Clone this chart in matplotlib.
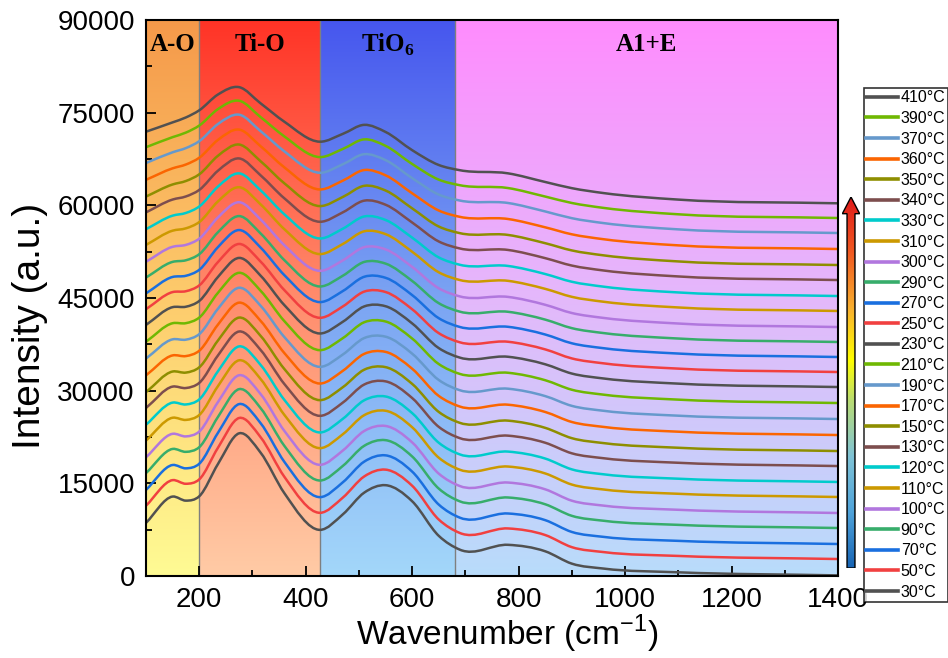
import numpy as np
import matplotlib.pyplot as plt
from matplotlib.colors import LinearSegmentedColormap
from matplotlib.path import Path
from matplotlib.patches import PathPatch, Polygon

plt.rcParams['font.family'] = ['Liberation Sans', 'DejaVu Sans']
plt.rcParams['mathtext.fontset'] = 'custom'
plt.rcParams['mathtext.rm'] = 'Liberation Sans'
plt.rcParams['mathtext.bf'] = 'Liberation Serif:bold'

# Raman spectra, read at fixed wavenumbers (cm-1)
wavenumber = [100, 150, 175, 200, 235, 275, 315, 360, 427, 470, 510,
              550, 600, 650, 690, 780, 850, 900, 960, 1100, 1400]
temperatures = [30, 50, 70, 90, 100, 110, 120, 130, 150, 170, 190, 210, 230,
                250, 270, 290, 300, 310, 330, 340, 350, 360, 370, 390, 410]
# vertical shift of each spectrum in the stack
offsets = [100, 2750, 5180, 7770, 10200, 12790, 15220, 17800, 20230, 22820,
           25410, 28000, 30590, 33020, 35450, 37880, 40300, 42900, 45320,
           47910, 50340, 52930, 55520, 57950, 60330]
spectra = [
    [8500, 12760, 12100, 12800, 18000, 23000, 19900, 13300, 7370, 9900, 13400, 14600, 12000, 6400, 4150, 4950, 3900, 1900, 1100, 500, 0],
    [8630, 12770, 12180, 12890, 17980, 22830, 19750, 13300, 7480, 9960, 13370, 14470, 11860, 6390, 4200, 4950, 3880, 1920, 1120, 500, 0],
    [8760, 12790, 12250, 12990, 17970, 22650, 19590, 13290, 7590, 10010, 13340, 14350, 11720, 6380, 4250, 4940, 3860, 1950, 1150, 510, 0],
    [8890, 12800, 12330, 13080, 17950, 22480, 19440, 13290, 7690, 10070, 13310, 14220, 11580, 6380, 4300, 4940, 3840, 1970, 1170, 510, 0],
    [9020, 12820, 12400, 13180, 17930, 22300, 19280, 13280, 7800, 10130, 13280, 14090, 11430, 6370, 4350, 4930, 3830, 1990, 1190, 520, 0],
    [9140, 12830, 12480, 13270, 17920, 22130, 19130, 13280, 7910, 10180, 13250, 13960, 11290, 6360, 4400, 4930, 3810, 2010, 1210, 520, 0],
    [9270, 12850, 12550, 13360, 17900, 21950, 18980, 13280, 8020, 10240, 13230, 13840, 11150, 6350, 4450, 4920, 3790, 2040, 1240, 530, 0],
    [9400, 12860, 12630, 13460, 17880, 21780, 18820, 13270, 8130, 10290, 13200, 13710, 11010, 6340, 4500, 4920, 3770, 2060, 1260, 530, 0],
    [9530, 12870, 12700, 13550, 17870, 21600, 18670, 13270, 8240, 10350, 13170, 13580, 10870, 6330, 4550, 4920, 3750, 2080, 1280, 530, 0],
    [9660, 12890, 12780, 13640, 17850, 21430, 18510, 13260, 8340, 10410, 13140, 13460, 10730, 6330, 4600, 4910, 3730, 2110, 1310, 540, 0],
    [9790, 12900, 12850, 13740, 17830, 21250, 18360, 13260, 8450, 10460, 13110, 13330, 10580, 6320, 4650, 4910, 3710, 2130, 1330, 540, 0],
    [9920, 12920, 12930, 13830, 17820, 21080, 18200, 13250, 8560, 10520, 13080, 13200, 10440, 6310, 4700, 4900, 3690, 2150, 1350, 550, 0],
    [10050, 12930, 13000, 13930, 17800, 20900, 18050, 13250, 8670, 10580, 13050, 13080, 10300, 6300, 4750, 4900, 3680, 2180, 1380, 550, 0],
    [10170, 12940, 13080, 14020, 17780, 20730, 17900, 13250, 8780, 10630, 13020, 12950, 10160, 6290, 4800, 4900, 3660, 2200, 1400, 550, 0],
    [10300, 12960, 13150, 14110, 17770, 20550, 17740, 13240, 8890, 10690, 12990, 12820, 10020, 6280, 4850, 4890, 3640, 2220, 1420, 560, 0],
    [10430, 12970, 13230, 14210, 17750, 20380, 17590, 13240, 8990, 10740, 12960, 12690, 9880, 6280, 4900, 4890, 3620, 2240, 1440, 560, 0],
    [10560, 12990, 13300, 14300, 17730, 20200, 17430, 13230, 9100, 10800, 12930, 12570, 9730, 6270, 4950, 4880, 3600, 2270, 1470, 570, 0],
    [10690, 13000, 13380, 14390, 17720, 20030, 17280, 13230, 9210, 10860, 12900, 12440, 9590, 6260, 5000, 4880, 3580, 2290, 1490, 570, 0],
    [10820, 13010, 13450, 14490, 17700, 19850, 17130, 13220, 9320, 10910, 12880, 12310, 9450, 6250, 5050, 4870, 3560, 2310, 1510, 580, 0],
    [10950, 13030, 13530, 14580, 17680, 19680, 16970, 13220, 9430, 10970, 12850, 12190, 9310, 6240, 5100, 4870, 3540, 2340, 1540, 580, 0],
    [11080, 13040, 13600, 14680, 17670, 19500, 16820, 13220, 9540, 11030, 12820, 12060, 9170, 6230, 5150, 4870, 3530, 2360, 1560, 580, 0],
    [11200, 13060, 13680, 14770, 17650, 19330, 16660, 13210, 9640, 11080, 12790, 11930, 9020, 6230, 5200, 4860, 3510, 2380, 1580, 590, 0],
    [11330, 13070, 13750, 14860, 17630, 19150, 16510, 13210, 9750, 11140, 12760, 11800, 8880, 6220, 5250, 4860, 3490, 2400, 1600, 590, 0],
    [11460, 13090, 13830, 14960, 17620, 18980, 16350, 13200, 9860, 11190, 12730, 11680, 8740, 6210, 5300, 4850, 3470, 2430, 1630, 600, 0],
    [11590, 13100, 13900, 15050, 17600, 18800, 16200, 13200, 9970, 11250, 12700, 11550, 8600, 6200, 5350, 4850, 3450, 2450, 1650, 600, 0],
]

# band assignments and their shaded ranges
bands = ['A-O', 'Ti-O', r'TiO$_\mathbf{6}$', 'A1+E']
band_edges = [100, 200, 427, 681, 1400]
band_colors = [
    ['#FFFB94', '#FDCB6C', '#F5994A'],
    ['#FFCBA6', '#FF8C6C', '#FF3326'],
    ['#A3D7FA', '#7BA4F3', '#4656EE'],
    ['#B8DCFA', '#E4B8FB', '#FF8CFE'],
]

line_colors = ['#515151', '#F14040', '#1A6FDF', '#37AD6B', '#B177DE', '#CC9900',
               '#00CBCC', '#7D4E4E', '#8E8E00', '#FB6501', '#6699CC', '#6FB802']


def smooth_path(x, y):
    # cubic Hermite segments through the read points, as Bezier curves
    x = np.asarray(x, float)
    y = np.asarray(y, float)
    m = np.gradient(y, x)
    verts = [(x[0], y[0])]
    codes = [Path.MOVETO]
    for i in range(len(x) - 1):
        h = x[i + 1] - x[i]
        verts += [(x[i] + h / 3, y[i] + m[i] * h / 3),
                  (x[i + 1] - h / 3, y[i + 1] - m[i + 1] * h / 3),
                  (x[i + 1], y[i + 1])]
        codes += [Path.CURVE4] * 3
    return Path(verts, codes)


fig = plt.figure(figsize=(9.48, 6.58), dpi=100)
ax = fig.add_axes([0.154, 0.1246, 0.730, 0.845])

ymax = 90000
grad = np.linspace(0, 1, 256).reshape(-1, 1)
for k, name in enumerate(bands):
    x0, x1 = band_edges[k], band_edges[k + 1]
    cmap = LinearSegmentedColormap.from_list('band%d' % k, band_colors[k])
    ax.imshow(grad, extent=(x0, x1, 0, ymax), origin='lower', aspect='auto',
              cmap=cmap, zorder=0)
    ax.text((x0 + x1) / 2, 86000, name, ha='center', va='center',
            family='Liberation Serif', weight='bold', fontsize=18, zorder=5)
for xe in band_edges[1:-1]:
    ax.axvline(xe, color='#7F7F7F', lw=1.0, zorder=1)

handles = []
for i, t in enumerate(temperatures):
    c = line_colors[i % len(line_colors)]
    y = np.asarray(spectra[i]) + offsets[i]
    ax.add_patch(PathPatch(smooth_path(wavenumber, y), fill=False, edgecolor=c,
                           lw=1.8, capstyle='round', joinstyle='round', zorder=3))
    h, = ax.plot([], [], color=c, lw=2.6, label='%d°C' % t)
    handles.append(h)

ax.set_xlim(100, 1400)
ax.set_ylim(0, ymax)
ax.set_xticks(range(200, 1401, 200))
ax.set_xticks(range(100, 1401, 100), minor=True)
ax.set_yticks(range(0, 90001, 15000))
ax.set_yticks(range(0, 90001, 7500), minor=True)
ax.tick_params(which='both', direction='in', top=False, right=False,
               width=1.3, labelsize=20, pad=8)
ax.tick_params(which='major', length=7)
ax.tick_params(which='minor', length=4)
for s in ax.spines.values():
    s.set_linewidth(1.5)
    s.set_zorder(6)

ax.set_xlabel('Wavenumber (cm$^{-1}$)', fontsize=24)
ax.xaxis.set_label_coords(0.522, -0.066)
ax.set_ylabel('Intensity (a.u.)', fontsize=28)
ax.yaxis.set_label_coords(-0.142, 0.45)

leg = fig.legend(handles[::-1], [h.get_label() for h in handles[::-1]],
                 loc='upper left', bbox_to_anchor=(864 / 948, 1 - 88 / 658),
                 bbox_transform=fig.transFigure, fontsize=11.5, frameon=True,
                 fancybox=False, borderpad=0.15, borderaxespad=0,
                 labelspacing=0.35, handlelength=2.0, handletextpad=0.15)
leg.get_frame().set_edgecolor('black')
leg.get_frame().set_linewidth(1.2)

# temperature arrow with a rainbow fill
cax = fig.add_axes([842 / 948, 1 - 568 / 658, 18 / 948, 371 / 658])
cax.set_axis_off()
arrow_cmap = LinearSegmentedColormap.from_list(
    'arrow', [(0.0, '#1764B4'), (0.15, '#4FA3DA'), (0.3, '#7FC3D6'),
              (0.45, '#B9DC74'), (0.56, '#FFFF00'), (0.7, '#F8B030'),
              (0.85, '#F05A22'), (1.0, '#E01B1B')])
img = cax.imshow(grad, extent=(0, 1, 0, 1), origin='lower', aspect='auto',
                 cmap=arrow_cmap)
outline = [(0.28, 0), (0.72, 0), (0.72, 0.955), (0.98, 0.955), (0.5, 1.0),
           (0.02, 0.955), (0.28, 0.955)]
clip = Polygon(outline, closed=True, transform=cax.transAxes, facecolor='none')
cax.add_patch(clip)
img.set_clip_path(clip)
cax.add_patch(Polygon(outline, closed=True, transform=cax.transAxes,
                      facecolor='none', edgecolor='black', lw=1.0))
cax.set_xlim(0, 1)
cax.set_ylim(0, 1)

fig.savefig('out.png', dpi=100)
